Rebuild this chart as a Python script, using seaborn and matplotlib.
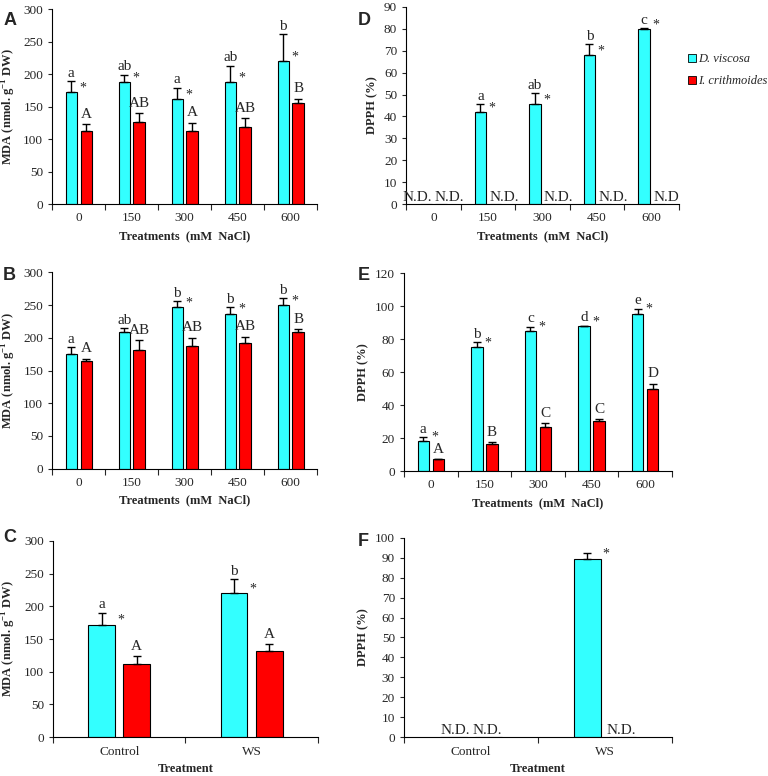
import pandas as pd
import matplotlib
matplotlib.use("Agg")
import matplotlib.pyplot as plt
from matplotlib.lines import Line2D
import seaborn as sns

# species / colours
species = ["D. viscosa", "I. crithmoides"]
bar_colors = ["#33FFFF", "#FF0000"]

salt_levels = ["0", "150", "300", "450", "600"]
water_levels = ["Control", "WS"]

# A: MDA under salt
mda_salt_dv = [172, 188, 162, 188, 220]
mda_salt_dv_err = [17, 11, 17, 25, 42]
mda_salt_ic = [112, 127, 112, 118, 155]
mda_salt_ic_err = [11, 13, 13, 14, 7]
mda_salt_dv_lab = ["a", "ab", "a", "ab", "b"]
mda_salt_ic_lab = ["A", "AB", "A", "AB", "B"]
mda_salt_star = [True, True, True, True, True]

# B: MDA under salt (second experiment)
mda2_salt_dv = [175, 209, 247, 237, 250]
mda2_salt_dv_err = [11, 6, 9, 10, 11]
mda2_salt_ic = [165, 182, 187, 192, 209]
mda2_salt_ic_err = [3, 14, 13, 10, 4]
mda2_salt_dv_lab = ["a", "ab", "b", "b", "b"]
mda2_salt_ic_lab = ["A", "AB", "AB", "AB", "B"]
mda2_salt_star = [False, False, True, True, True]

# C: MDA under water stress
mda_ws_dv = [172, 220]
mda_ws_dv_err = [18, 21]
mda_ws_ic = [112, 132]
mda_ws_ic_err = [12, 10]
mda_ws_dv_lab = ["a", "b"]
mda_ws_ic_lab = ["A", "A"]
mda_ws_star = [True, True]

# D: DPPH under salt (0 = not detected)
dpph_salt_dv = [0, 42, 45.5, 68, 80]
dpph_salt_dv_err = [0, 3.5, 5, 5, 0.3]
dpph_salt_ic = [0, 0, 0, 0, 0]
dpph_salt_ic_err = [0, 0, 0, 0, 0]
dpph_salt_dv_lab = ["", "a", "ab", "b", "c"]
dpph_salt_ic_lab = ["", "", "", "", ""]
dpph_salt_star = [False, True, True, True, True]
dpph_salt_dv_nd = ["N.D.", "", "", "", ""]
dpph_salt_ic_nd = ["N.D.", "N.D.", "N.D.", "N.D.", "N.D"]

# E: DPPH under salt (second experiment)
dpph2_salt_dv = [18, 75, 85, 88, 95.5]
dpph2_salt_dv_err = [2.5, 3, 2.5, 0.2, 3]
dpph2_salt_ic = [7, 16.5, 27, 30.5, 49.5]
dpph2_salt_ic_err = [0.2, 1, 2, 1, 3.5]
dpph2_salt_dv_lab = ["a", "b", "c", "d", "e"]
dpph2_salt_ic_lab = ["A", "B", "C", "C", "D"]
dpph2_salt_star = [True, True, True, True, True]

# F: DPPH under water stress
dpph_ws_dv = [0, 89.5]
dpph_ws_dv_err = [0, 3]
dpph_ws_ic = [0, 0]
dpph_ws_ic_err = [0, 0]
dpph_ws_dv_lab = ["", ""]
dpph_ws_ic_lab = ["", ""]
dpph_ws_star = [False, True]
dpph_ws_dv_nd = ["N.D.", ""]
dpph_ws_ic_nd = ["N.D.", "N.D."]

sns.set_style("ticks")
plt.rcParams["font.family"] = ["Liberation Serif", "DejaVu Serif"]
plt.rcParams["mathtext.fontset"] = "custom"
plt.rcParams["mathtext.rm"] = "Liberation Serif"
plt.rcParams["mathtext.bf"] = "Liberation Serif:bold"

MDA_LABEL = r"MDA (nmol. g$^{\mathbf{-1}}$ DW)"


def draw_panel(ax, cats, dv, dv_err, ic, ic_err, dv_lab, ic_lab, star,
               ymax, ystep, ylabel, xlabel, width, dv_nd=None, ic_nd=None):
    n = len(cats)
    df = pd.DataFrame({"cat": cats * 2,
                       "species": [species[0]] * n + [species[1]] * n,
                       "value": dv + ic})
    sns.barplot(data=df, x="cat", y="value", hue="species", order=cats,
                hue_order=species, palette=bar_colors, saturation=1,
                edgecolor="black", linewidth=0.8, width=width, gap=0.24,
                errorbar=None, legend=False, ax=ax)
    errs = dv_err + ic_err
    labs = dv_lab + ic_lab
    nds = (dv_nd or [""] * n) + (ic_nd or [""] * n)
    stars = star + [False] * n
    for i, p in enumerate(ax.patches[:2 * n]):
        xc = p.get_x() + p.get_width() / 2
        h = p.get_height()
        if nds[i]:
            # N.D. text hangs from the group centre, cyan to the left, red right
            grp = i % n
            if i < n:
                ax.annotate(nds[i], (grp, 0), xytext=(-1, 0),
                            textcoords="offset points", ha="right",
                            va="bottom", fontsize=11)
            else:
                ax.annotate(nds[i], (grp, 0), xytext=(1, 0),
                            textcoords="offset points", ha="left",
                            va="bottom", fontsize=11)
            continue
        if errs[i] > 0:
            ax.errorbar(xc, h, yerr=[[0], [errs[i]]], fmt="none",
                        ecolor="black", elinewidth=1, capsize=3, capthick=1)
        if labs[i]:
            lift = 1 if labs[i].islower() else 2.5
            ax.annotate(labs[i], (xc, h + errs[i]), xytext=(0, lift),
                        textcoords="offset points", ha="center", va="bottom",
                        fontsize=11)
        if stars[i]:
            ax.annotate("*", (p.get_x() + p.get_width(), h), xytext=(1.5, 3),
                        textcoords="offset points", ha="left", va="center",
                        fontsize=10)
    ax.set_ylim(0, ymax)
    ax.set_yticks(range(0, ymax + 1, ystep))
    ax.set_xlim(-0.5, n - 0.5)
    ax.set_xticks(range(n))
    ax.set_xticks([k - 0.5 for k in range(n + 1)], minor=True)
    ax.tick_params(axis="x", which="major", length=0, labelsize=9.5, pad=6)
    ax.tick_params(axis="x", which="minor", length=4, width=0.8)
    ax.tick_params(axis="y", length=3, width=0.8, labelsize=9.5)
    ax.set_ylabel(ylabel, fontsize=9, fontweight="bold")
    ax.set_xlabel(xlabel, fontsize=9, fontweight="bold")
    sns.despine(ax=ax)
    for s in ("left", "bottom"):
        ax.spines[s].set_color("black")
        ax.spines[s].set_linewidth(0.8)


fig = plt.figure(figsize=(7.68, 7.76), dpi=100)
ax_a = fig.add_axes([0.068, 0.737, 0.345, 0.251])
ax_b = fig.add_axes([0.068, 0.396, 0.345, 0.253])
ax_c = fig.add_axes([0.069, 0.050, 0.345, 0.253])
ax_d = fig.add_axes([0.529, 0.737, 0.355, 0.254])
ax_e = fig.add_axes([0.526, 0.393, 0.349, 0.255])
ax_f = fig.add_axes([0.526, 0.050, 0.349, 0.257])

salt_x = "Treatments  (mM  NaCl)"
draw_panel(ax_a, salt_levels, mda_salt_dv, mda_salt_dv_err, mda_salt_ic,
           mda_salt_ic_err, mda_salt_dv_lab, mda_salt_ic_lab, mda_salt_star,
           300, 50, MDA_LABEL, salt_x, 0.56)
draw_panel(ax_b, salt_levels, mda2_salt_dv, mda2_salt_dv_err, mda2_salt_ic,
           mda2_salt_ic_err, mda2_salt_dv_lab, mda2_salt_ic_lab, mda2_salt_star,
           300, 50, MDA_LABEL, salt_x, 0.56)
draw_panel(ax_c, water_levels, mda_ws_dv, mda_ws_dv_err, mda_ws_ic,
           mda_ws_ic_err, mda_ws_dv_lab, mda_ws_ic_lab, mda_ws_star,
           300, 50, MDA_LABEL, "Treatment", 0.53)
draw_panel(ax_d, salt_levels, dpph_salt_dv, dpph_salt_dv_err, dpph_salt_ic,
           dpph_salt_ic_err, dpph_salt_dv_lab, dpph_salt_ic_lab, dpph_salt_star,
           90, 10, "DPPH (%)", salt_x, 0.56, dpph_salt_dv_nd, dpph_salt_ic_nd)
draw_panel(ax_e, salt_levels, dpph2_salt_dv, dpph2_salt_dv_err, dpph2_salt_ic,
           dpph2_salt_ic_err, dpph2_salt_dv_lab, dpph2_salt_ic_lab,
           dpph2_salt_star, 120, 20, "DPPH (%)", salt_x, 0.56)
draw_panel(ax_f, water_levels, dpph_ws_dv, dpph_ws_dv_err, dpph_ws_ic,
           dpph_ws_ic_err, dpph_ws_dv_lab, dpph_ws_ic_lab, dpph_ws_star,
           100, 10, "DPPH (%)", "Treatment", 0.53, dpph_ws_dv_nd, dpph_ws_ic_nd)

# panel letters
for lab, x, y in [("A", 0.004, 0.985), ("B", 0.004, 0.656), ("C", 0.004, 0.318),
                  ("D", 0.466, 0.985), ("E", 0.466, 0.656), ("F", 0.466, 0.313)]:
    fig.text(x, y, lab, fontsize=13, fontweight="bold",
             family=["Liberation Sans", "DejaVu Sans"], va="top")

handles = [Line2D([], [], marker="s", linestyle="none", markersize=6,
                  markerfacecolor=c, markeredgecolor="black",
                  markeredgewidth=0.6) for c in bar_colors]
fig.legend(handles, species, loc="upper left", bbox_to_anchor=(0.891, 0.935),
           frameon=False, handletextpad=0.0, handlelength=0.9,
           labelspacing=0.8, borderaxespad=0, borderpad=0.2,
           prop={"style": "italic", "size": 9})

fig.savefig("out.png", dpi=100)
